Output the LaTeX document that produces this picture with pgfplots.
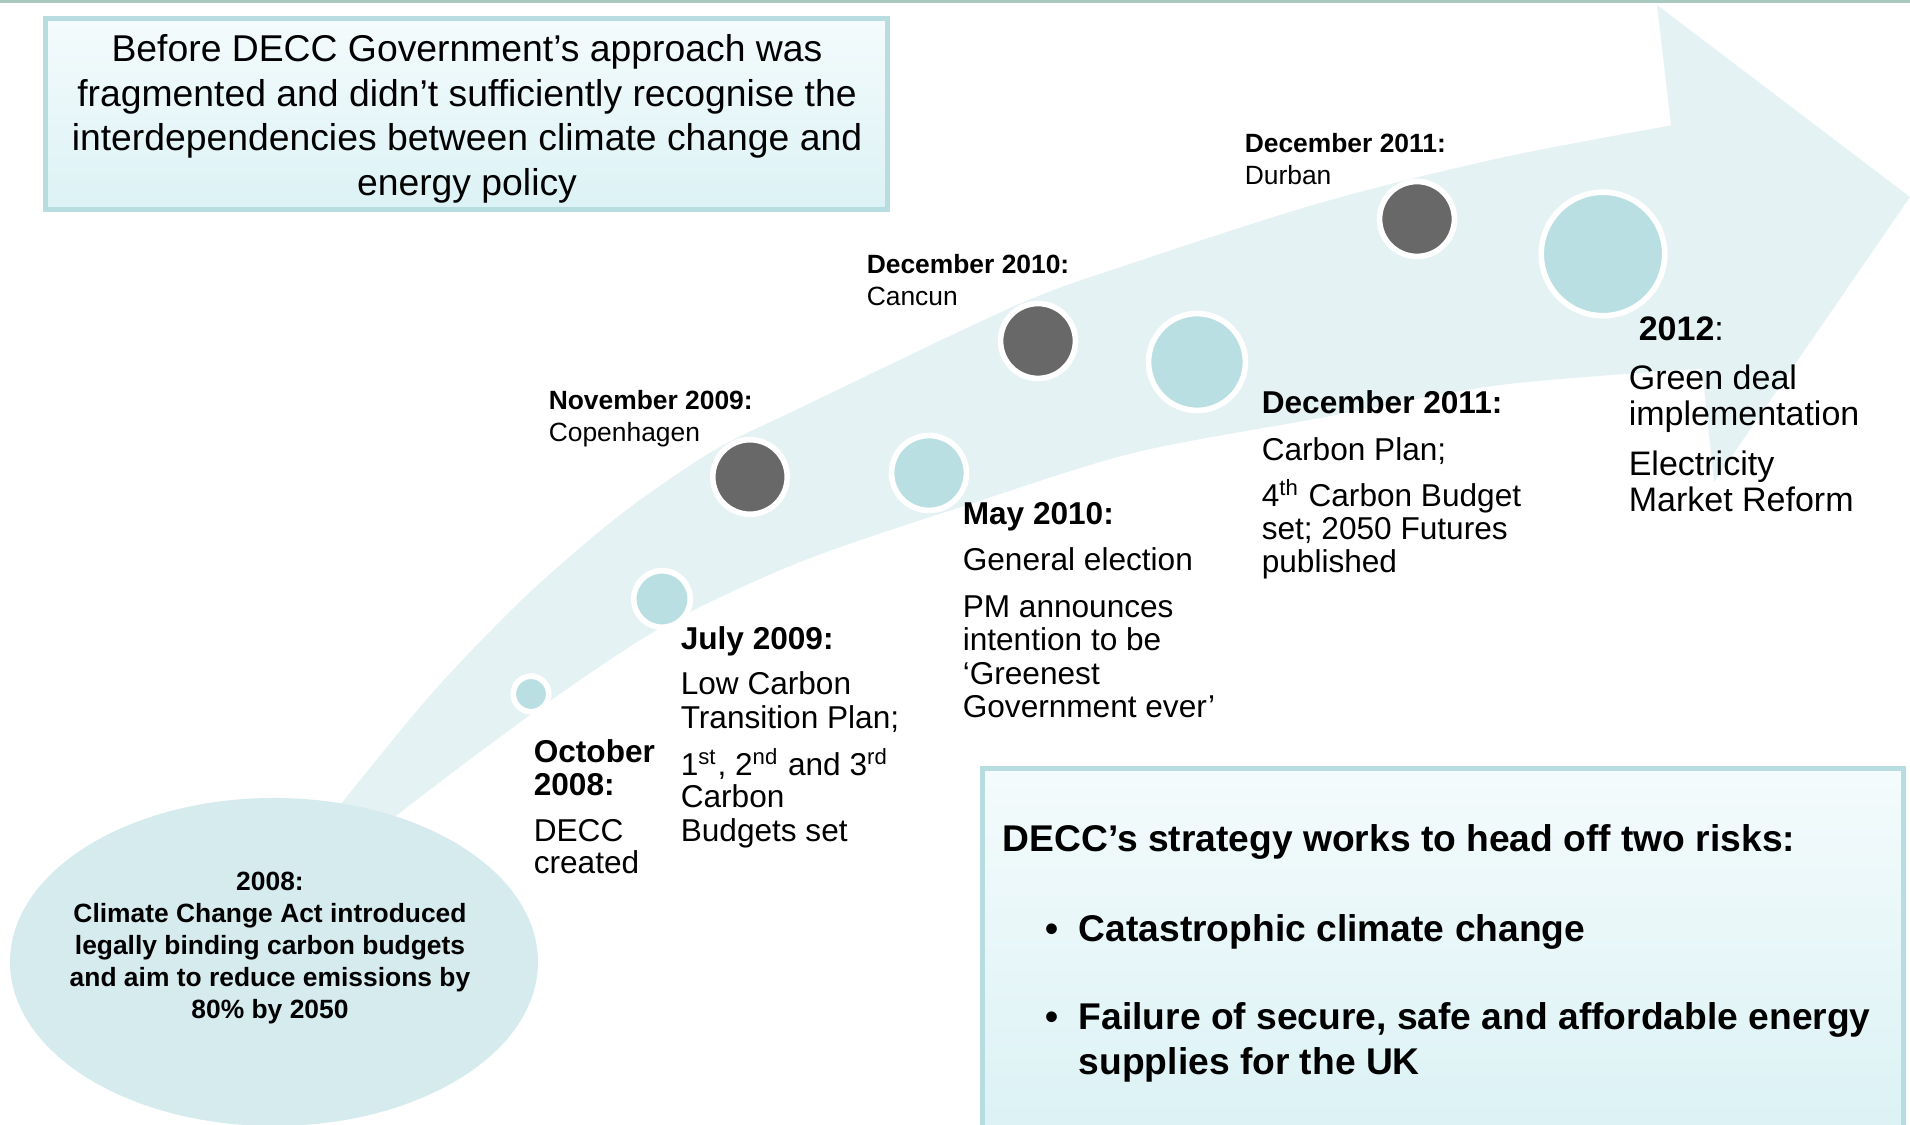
\documentclass[border=0pt]{standalone}
\usepackage{fontspec}
\setmainfont{Liberation Sans}
\usepackage{pgfplots}
\pgfplotsset{compat=1.18}
\usepgfplotslibrary{fillbetween}
\definecolor{band}{HTML}{E5F2F4}
\definecolor{ellcol}{HTML}{D6EBEE}
\definecolor{cblue}{HTML}{B9DFE2}
\definecolor{cdark}{HTML}{686868}
\definecolor{boxedge}{HTML}{B7DDE1}
\definecolor{boxtop}{HTML}{F4FBFC}
\definecolor{boxbot}{HTML}{DCF2F5}
\definecolor{topline}{HTML}{A8C8C0}

% font sizes (1 px of the reference = 0.25pt)
\newcommand{\fT}{\fontsize{9.33}{11}\selectfont}
\newcommand{\fS}{\fontsize{6.6}{8}\selectfont}
\newcommand{\fL}{\fontsize{7.9}{8.5}\selectfont}
\newcommand{\fG}{\fontsize{8.5}{9}\selectfont}
\newcommand{\fB}{\fontsize{9.3}{11}\selectfont\bfseries}
% one line of text, left edge + baseline in pixel coords
\newcommand{\tl}[4]{\node[anchor=base west,inner sep=0pt,font=#3] at (axis cs:#1,#2) {#4};}
\newcommand{\tc}[4]{\node[anchor=base,inner sep=0pt,font=#3] at (axis cs:#1,#2) {#4};}

\pgfplotstableread{
x    y    r
531  694  15
662  599  25.5
929  473  34.7
1197 362  45.7
1603 254  59
}\lightdots
\pgfplotstableread{
x    y    r
750  477  34.5
1038 341  34.7
1417 219  34.7
}\darkdots

\begin{document}
\begin{tikzpicture}
\begin{axis}[
    name=ax,
    width=477.5pt, height=281.25pt, scale only axis,
    xmin=0, xmax=1910, ymin=0, ymax=1125,
    y dir=reverse,
    hide axis,
    set layers,
    clip=true,
]
\begin{pgfonlayer}{axis background}
\fill[white] (axis cs:0,0) rectangle (axis cs:1910,1125);
\end{pgfonlayer}

% arrow shaft
\addplot[name path=up, draw=none, smooth, forget plot] coordinates {
    (300,858) (341,804) (434,691) (527,595) (620,515) (713,451) (800,408)
    (1017,305) (1133,263) (1320,203) (1500,158) (1690,122)};
\addplot[name path=lo, draw=none, smooth, forget plot] coordinates {
    (345,860) (397,815) (533,713) (662,627) (800,562) (967,505) (1133,453)
    (1320,418) (1500,385) (1712,368)};
\addplot[band, forget plot] fill between[of=up and lo];
% arrow head
\addplot[fill=band, draw=none, forget plot] coordinates {
    (1657,5) (1910,197) (1714,482) (1702,369) (1671,125)} -- cycle;

% top rule
\draw[topline, line width=0.75pt] (axis cs:0,1.5) -- (axis cs:1910,1.5);

% 2008 ellipse
\fill[ellcol] (axis cs:274,962) ellipse [x radius=66pt, y radius=41pt];

% milestone dots
\addplot[scatter, only marks, mark=*, line width=1.4pt,
    scatter/use mapped color={draw=white, fill=cblue},
    visualization depends on={(\thisrow{r}+2.75)*0.25 \as \msize},
    scatter/@pre marker code/.append style={/tikz/mark size=\msize pt}]
    table[x=x, y=y] {\lightdots};
\addplot[scatter, only marks, mark=*, line width=1.4pt,
    scatter/use mapped color={draw=white, fill=cdark},
    visualization depends on={(\thisrow{r}+2.75)*0.25 \as \msize},
    scatter/@pre marker code/.append style={/tikz/mark size=\msize pt}]
    table[x=x, y=y] {\darkdots};

% top box
\draw[boxedge, line width=1.25pt, top color=boxtop, bottom color=boxbot]
    (axis cs:45.5,18.5) rectangle (axis cs:887.5,209.5);
\tc{467}{62}{\fT}{Before DECC Government’s approach was}
\tc{467}{106.5}{\fT}{fragmented and didn’t sufficiently recognise the}
\tc{467}{151}{\fT}{interdependencies between climate change and}
\tc{467}{195.5}{\fT}{energy policy}

% bottom box
\shade[top color=boxtop, bottom color=boxbot]
    (axis cs:982.5,768.5) rectangle (axis cs:1903.5,1125);
\draw[boxedge, line width=1.25pt] (axis cs:982.5,1125) -- (axis cs:982.5,768.5)
    -- (axis cs:1903.5,768.5) -- (axis cs:1903.5,1125);
\tl{1002}{852}{\fB}{DECC’s strategy works to head off two risks:}
\tl{1045}{942}{\fB}{\textbullet}
\tl{1078}{942}{\fB}{Catastrophic climate change}
\tl{1045}{1030}{\fB}{\textbullet}
\tl{1078}{1030}{\fB}{Failure of secure, safe and affordable energy}
\tl{1078}{1075}{\fB}{supplies for the UK}

% ellipse text
\tc{270}{891}{\fS\bfseries}{2008:}
\tc{270}{923}{\fS\bfseries}{Climate Change Act introduced}
\tc{270}{955}{\fS\bfseries}{legally binding carbon budgets}
\tc{270}{987}{\fS\bfseries}{and aim to reduce emissions by}
\tc{270}{1019}{\fS\bfseries}{80\% by 2050}

% small labels above the arrow
\tl{548}{410}{\fS\bfseries}{November 2009:}
\tl{548}{442}{\fS}{Copenhagen}
\tl{866}{274}{\fS\bfseries}{December 2010:}
\tl{866}{306}{\fS}{Cancun}
\tl{1244}{153}{\fS\bfseries}{December 2011:}
\tl{1244}{185}{\fS}{Durban}

% October 2008
\tl{533}{763}{\fL\bfseries}{October}
\tl{533}{796}{\fL\bfseries}{2008:}
\tl{533}{842}{\fL}{DECC}
\tl{533}{874}{\fL}{created}

% July 2009
\tl{680}{650}{\fL\bfseries}{July 2009:}
\tl{680}{695}{\fL}{Low Carbon}
\tl{680}{729}{\fL}{Transition Plan;}
\tl{680}{776}{\fL}{1\textsuperscript{st}, 2\textsuperscript{nd} and 3\textsuperscript{rd}}
\tl{680}{808}{\fL}{Carbon}
\tl{680}{842}{\fL}{Budgets set}

% May 2010
\tl{962}{525}{\fL\bfseries}{May 2010:}
\tl{962}{571}{\fL}{General election}
\tl{962}{618}{\fL}{PM announces}
\tl{962}{651}{\fL}{intention to be}
\tl{962}{685}{\fL}{‘Greenest}
\tl{962}{718}{\fL}{Government ever’}

% December 2011
\tl{1261}{414}{\fL\bfseries}{December 2011:}
\tl{1261}{461}{\fL}{Carbon Plan;}
\tl{1261}{507}{\fL}{4\textsuperscript{th} Carbon Budget}
\tl{1261}{540}{\fL}{set; 2050 Futures}
\tl{1261}{573}{\fL}{published}

% 2012
\tl{1638}{341}{\fG}{\textbf{2012}:}
\tl{1628}{390}{\fG}{Green deal}
\tl{1628}{426}{\fG}{implementation}
\tl{1628}{476}{\fG}{Electricity}
\tl{1628}{512}{\fG}{Market Reform}
\end{axis}
\pgfresetboundingbox
\path[use as bounding box] (ax.south west) rectangle (ax.north east);
\end{tikzpicture}
\end{document}
